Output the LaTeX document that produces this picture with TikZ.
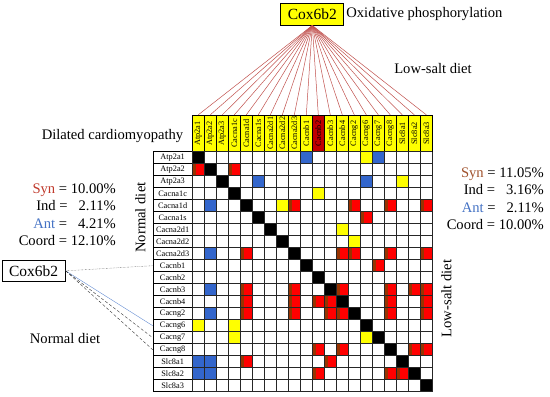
\documentclass[tikz,border=0pt]{standalone}
\usepackage{fontspec}
\setmainfont{Liberation Serif}
\usepackage{graphicx}
\usepackage{xcolor}
\usetikzlibrary{positioning}

\definecolor{synred}{RGB}{255,0,0}
\definecolor{synbrown}{RGB}{153,51,0}
\definecolor{antblue}{RGB}{51,102,204}
\definecolor{indyellow}{RGB}{255,255,0}
\definecolor{hilite}{RGB}{192,0,0}
\definecolor{fanline}{RGB}{192,80,77}
\definecolor{synleft}{RGB}{192,57,43}
\definecolor{synright}{RGB}{160,82,45}
\definecolor{anttext}{RGB}{68,114,196}
\definecolor{linkblue}{RGB}{100,140,210}

\tikzset{
  rowlab/.style={draw, line width=0.6pt, minimum width=39.3pt, minimum height=12pt, inner sep=0pt, font=\fontsize{8.3}{9}\selectfont},
  collab/.style={draw, line width=0.6pt, fill=indyellow, minimum width=12pt, minimum height=36.6pt, inner sep=0pt, font=\fontsize{8.3}{9}\selectfont},
  bigtext/.style={font=\fontsize{14.6}{17}\selectfont, inner sep=0pt},
  statline/.style={font=\fontsize{14.6}{17}\selectfont, inner sep=0pt, anchor=base east},
  genebox/.style={draw, line width=0.8pt, inner sep=0pt, font=\fontsize{15.5}{18}\selectfont, minimum width=63pt, minimum height=21.7pt},
}

\begin{document}
\begin{tikzpicture}[x=1pt, y=-1pt]
        \useasboundingbox (0,0) rectangle (550,397);

        % Top gene and pathway
        \node[genebox, fill=indyellow] (coxtop) at (312.3,14.2) {Cox6b2};
        \node[bigtext, anchor=west, right=2pt of coxtop] (oxphos) {Oxidative phosphorylation};
        \node[bigtext, anchor=base] (lowtop) at (433,73) {Low-salt diet};

        % Column headers
        \foreach \name [count=\i from 0] in {Atp2a1,Atp2a2,Atp2a3,Cacna1c,Cacna1d,Cacna1s,Cacna2d1,Cacna2d2,Cacna2d3,Cacnb1,Cacnb2,Cacnb3,Cacnb4,Cacng2,Cacng6,Cacng7,Cacng8,Slc8a1,Slc8a2,Slc8a3}
          \node[collab] (h\i) at (198.3+12*\i,133.4) {\rotatebox{90}{\name}};
        \node[collab, fill=hilite] at (h10) {\rotatebox{90}{Cacnb2}};

        % Fan from Cox6b2 to the headers
        \foreach \i in {0,...,19}
          \draw[fanline, line width=0.5pt] (coxtop.south) -- (h\i.north);

        % Row labels
        \foreach \name [count=\i from 0] in {Atp2a1,Atp2a2,Atp2a3,Cacna1c,Cacna1d,Cacna1s,Cacna2d1,Cacna2d2,Cacna2d3,Cacnb1,Cacnb2,Cacnb3,Cacnb4,Cacng2,Cacng6,Cacng7,Cacng8,Slc8a1,Slc8a2,Slc8a3}
          \node[rowlab] (r\i) at (172.65,157.7+12*\i) {\name};

        % Diagonal
        \foreach \k in {0,...,19}
          \fill[black] (192.3+12*\k,151.7+12*\k) rectangle ++(12,12);

        % Antagonistic cells (row/col)
        \foreach \r/\c in {0/9,0/15,2/5,2/14,4/1,8/1,11/1,13/1,17/0,17/1,18/0,18/1}
          \fill[antblue] (192.3+12*\c,151.7+12*\r) rectangle ++(12,12);

        % Independent cells
        \foreach \r/\c in {0/14,2/17,3/10,4/7,6/12,7/13,14/0,14/3,15/3,15/14}
          \fill[indyellow] (192.3+12*\c,151.7+12*\r) rectangle ++(12,12);

        % Synergistic cells
        \foreach \r/\c in {1/0,1/3,4/8,4/13,4/16,4/19,5/14,8/4,8/12,8/13,8/16,8/19,9/15,
                           11/4,11/8,11/12,11/16,11/18,11/19,12/4,12/8,12/10,12/11,12/16,12/19,
                           13/4,13/8,13/11,13/12,13/16,13/19,16/10,16/12,16/18,16/19,
                           17/4,17/11,18/10,18/16,18/17} {
          \fill[synred] (192.3+12*\c,151.7+12*\r) rectangle ++(12,12);
          \fill[synbrown] (192.3+12*\c,151.7+12*\r) rectangle ++(4,12);
        }

        % Grid
        \foreach \k in {0,...,20} {
          \draw[line width=0.6pt, black!85] (192.3+12*\k,151.7) -- (192.3+12*\k,391.7);
          \draw[line width=0.6pt, black!85] (192.3,151.7+12*\k) -- (432.3,151.7+12*\k);
        }

        % Left side texts
        \node[bigtext, anchor=base] (dilated) at (112.5,139.5) {Dilated cardiomyopathy};
        \node[statline] (synl) at (116,193) {\textcolor{synleft}{Syn} = 10.00\%};
        \node[statline] (indl) at (116,210.5) {Ind = \hphantom{0}2.11\%};
        \node[statline] (antl) at (116,228) {\textcolor{anttext}{Ant} = \hphantom{0}4.21\%};
        \node[statline] (coordl) at (116,245.5) {Coord = 12.10\%};
        \node[bigtext, rotate=90] (normalv) at (140.5,217.5) {Normal diet};
        \node[bigtext, anchor=base] (normalh) at (65,343) {Normal diet};

        % Right side texts
        \node[statline] (synr) at (544,177) {\textcolor{synright}{Syn} = 11.05\%};
        \node[statline] (indr) at (544,194.5) {Ind = \hphantom{0}3.16\%};
        \node[statline] (antr) at (544,212) {\textcolor{anttext}{Ant} = \hphantom{0}2.11\%};
        \node[statline] (coordr) at (544,229.5) {Coord = 10.00\%};
        \node[bigtext, rotate=90] (lowv) at (446.5,298.5) {Low-salt diet};

        % Left gene and its links
        \node[genebox] (coxleft) at (33.7,270.8) {Cox6b2};
        \draw[densely dotted, black!80] (coxleft.east) -- (r9.west);
        \draw[linkblue] (coxleft.east) -- (r14.west);
        \draw[densely dashed, black!80] (coxleft.east) -- (r15.west);
        \draw[densely dashed, black!80] (coxleft.east) -- (r16.west);
    \end{tikzpicture}
\end{document}
